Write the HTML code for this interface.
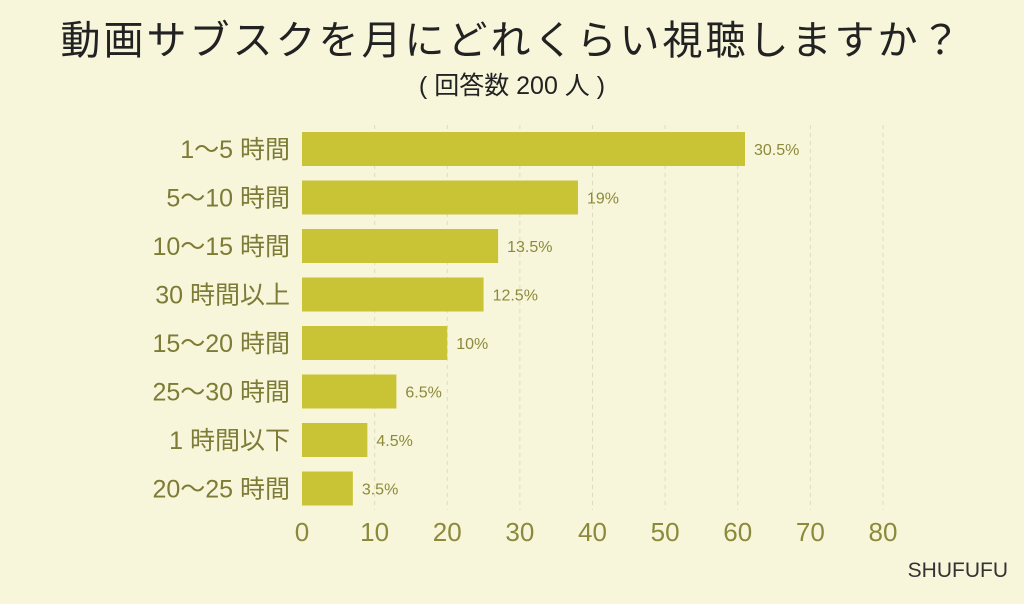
<!DOCTYPE html>
<html><head><meta charset="utf-8"><style>
body{margin:0;width:1024px;height:599px;background:#f7f6da;overflow:hidden;font-family:"Liberation Sans","Noto Sans CJK JP",sans-serif}
</style></head><body>
<svg id="c" width="1024" height="599">
<text x="512" y="54" text-anchor="middle" font-size="40" letter-spacing="3" fill="#222" font-family="Liberation Sans, Noto Sans CJK JP, sans-serif">動画サブスクを月にどれくらい視聴しますか？</text>
<text x="512" y="94" text-anchor="middle" font-size="25" fill="#222" font-family="Liberation Sans, Noto Sans CJK JP, sans-serif">( 回答数 200 人 )</text>
<text x="1008" y="577" text-anchor="end" font-size="21" fill="#333" font-family="Liberation Sans, sans-serif">SHUFUFU</text>
</svg>
<script>
const categories=["1〜5 時間","5〜10 時間","10〜15 時間","30 時間以上","15〜20 時間","25〜30 時間","1 時間以下","20〜25 時間"];
const counts=[61,38,27,25,20,13,9,7];
const percentLabels=["30.5%","19%","13.5%","12.5%","10%","6.5%","4.5%","3.5%"];
const ticks=[0,10,20,30,40,50,60,70,80];
const svg=document.getElementById('c');const NS="http://www.w3.org/2000/svg";
const x0=302,x1=883,xmax=80,top0=132,step=48.5,bh=34;
const X=v=>x0+(x1-x0)*v/xmax;
const Y=i=>top0+i*step;
function mk(t,a,txt){const e=document.createElementNS(NS,t);for(const k in a)e.setAttribute(k,a[k]);if(txt!=null)e.textContent=txt;svg.appendChild(e);return e;}
ticks.forEach(t=>{
 if(t>0){const g=mk('line',{x1:X(t),x2:X(t),y1:125,y2:510,stroke:'#dcdcc0','stroke-dasharray':'4,4'});
 
 }
 const l=mk('text',{x:X(t),y:541,'text-anchor':'middle','font-size':26,fill:'#8c8a3a'},t);
 
 
});
categories.forEach((c,i)=>{
 const r=mk('rect',{x:x0,y:Y(i),width:X(counts[i])-x0,height:bh,fill:'#c9c435'});
 
 
 const l=mk('text',{x:290,y:Y(i)+bh/2+9,'text-anchor':'end','font-size':25,fill:'#7d7b35'},c);
 
 
 const v=mk('text',{x:X(counts[i])+9,y:Y(i)+bh/2+6,'font-size':16,fill:'#8c8a3a'},percentLabels[i]);
 
 
});
</script>
</body></html>
